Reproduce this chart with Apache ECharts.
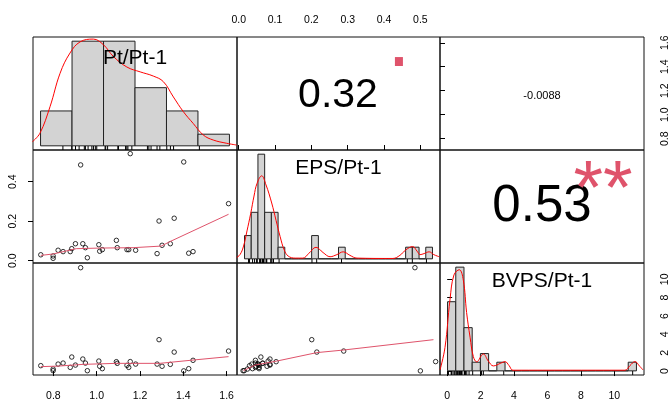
<!DOCTYPE html>
<html>
<head>
<meta charset="utf-8">
<script src="https://cdn.jsdelivr.net/npm/echarts@6/dist/echarts.min.js"></script>
<style>
  html, body { margin: 0; padding: 0; background: #fff; }
  #chart { width: 669px; height: 400px; }
</style>
</head>
<body>
<div id="chart"></div>
<script>
// variable names on the diagonal
const varNames = ['Pt/Pt-1', 'EPS/Pt-1', 'BVPS/Pt-1'];

const pt   = [0.742, 0.799, 0.799, 0.822, 0.845, 0.878, 0.885, 0.902, 0.926, 0.936,
              0.948, 0.957, 1.010, 1.014, 1.026, 1.091, 1.095, 1.140, 1.148, 1.155,
              1.180, 1.279, 1.288, 1.302, 1.340, 1.358, 1.402, 1.425, 1.445, 1.609];
const eps  = [0.030, 0.024, 0.012, 0.053, 0.046, 0.046, 0.061, 0.086, 0.485, 0.086,
              0.066, 0.015, 0.081, 0.048, 0.056, 0.103, 0.066, 0.056, 0.056, 0.542,
              0.053, 0.036, 0.201, 0.078, 0.086, 0.215, 0.500, 0.038, 0.046, 0.289];
const bvps = [0.59, 0.22, 0.04, 0.76, 0.87, 0.40, 1.53, 0.65, 11.27, 1.31,
              0.87, 0.04, 1.09, 0.52, 0.26, 1.02, 0.84, 0.62, 0.40, 1.03,
              0.76, 0.76, 3.42, 0.52, 0.73, 2.07, 0.02, 0.26, 1.17, 2.18];

// correlations (upper panels) and significance stars
const corLabels = ['0.32', '-0.0088', '0.53'];
const corStars  = ['.', '', '**'];

// histograms: first break, bin width, counts
const ptHist   = {start: 0.6, step: 0.2,  counts: [3, 9, 9, 5, 3, 1]};
const epsHist  = {start: 0,   step: 0.02, counts: [2, 4, 9, 4, 4, 1, 0, 0, 0, 0, 2, 0, 0, 0, 1, 0, 0, 0, 0, 0, 0, 0, 0, 0, 1, 1, 0, 1]};
const bvpsHist = {start: 0,   step: 0.5,  counts: [8, 12, 5, 1, 2, 0, 1, 0, 0, 0, 0, 0, 0, 0, 0, 0, 0, 0, 0, 0, 0, 0, 1]};

// kernel density curves (x, density)
const ptDensity = [[0.548, 0.059], [0.596, 0.18], [0.660, 0.56], [0.724, 1.04], [0.787, 1.33], [0.851, 1.49],
  [0.935, 1.53], [0.999, 1.45], [1.063, 1.28], [1.148, 1.13], [1.233, 1.06], [1.316, 1.00], [1.380, 0.92],
  [1.444, 0.70], [1.507, 0.49], [1.570, 0.32], [1.634, 0.155], [1.697, 0.083], [1.783, 0.036], [1.846, 0.011]];
const epsDensity = [[-0.023, 0.2], [-0.0135, 0.6], [-0.0036, 1.7], [0.0074, 4.0], [0.0184, 6.5], [0.0283, 9.0],
  [0.0372, 10.8], [0.0512, 11.9], [0.064, 10.6], [0.081, 8.0], [0.094, 5.5], [0.106, 3.2], [0.118, 1.3],
  [0.130, 0.4], [0.151, 0.1], [0.174, 0.1], [0.192, 0.8], [0.213, 1.65], [0.234, 0.9], [0.255, 0.3],
  [0.275, 0.6], [0.294, 1.0], [0.314, 0.5], [0.335, 0.1], [0.442, 0.05], [0.463, 0.5], [0.481, 1.3],
  [0.501, 1.75], [0.514, 1.1], [0.523, 0.6], [0.535, 0.75], [0.550, 1.0], [0.564, 0.6], [0.580, 0.3]];
const bvpsDensity = [[-0.46, 0.007], [-0.156, 0.18], [0.149, 0.55], [0.39, 0.74], [0.715, 0.78], [0.96, 0.70],
  [1.16, 0.45], [1.37, 0.26], [1.57, 0.11], [1.77, 0.07], [2.18, 0.13], [2.48, 0.076], [2.79, 0.038],
  [3.25, 0.06], [3.5, 0.071], [3.75, 0.04], [3.98, 0.005], [10.8, 0.005], [11.1, 0.04], [11.41, 0.071],
  [11.7, 0.035], [11.9, 0.007]];

// smoothers in the lower panels
const smoothPtEps = [[0.742, 0.027], [0.799, 0.034], [0.906, 0.061], [1.014, 0.064], [1.168, 0.066],
  [1.298, 0.074], [1.337, 0.096], [1.609, 0.235]];
const smoothPtBvps = [[0.742, 0.48], [0.822, 0.54], [0.937, 0.73], [1.091, 0.84], [1.291, 0.84],
  [1.445, 1.20], [1.609, 1.57]];
const smoothEpsBvps = [[0.013, 0.04], [0.045, 0.65], [0.105, 1.09], [0.215, 2.01], [0.288, 2.29], [0.536, 3.42]];

// tick labels
const ptTicks = [0.8, 1.0, 1.2, 1.4, 1.6];
const epsTopTicks = [0, 0.1, 0.2, 0.3, 0.4, 0.5];
const epsLeftTicks = [0, 0.2, 0.4];
const bvpsTicks = [0, 2, 4, 6, 8, 10];

// axis ranges of the data panels
const ptRange = [0.706, 1.648];
const epsRangeX = [-0.0047, 0.554];
const epsRangeY = [-0.0116, 0.5605];
const bvpsRange = [-0.43, 11.78];

const nObs = pt.length;
const FONT = 'Liberation Sans';
const colX = [33, 237, 440, 644];
const rowY = [37, 150, 263, 375];

const chart = echarts.init(document.getElementById('chart'));

const panelBox = (r, c) => ({
  left: colX[c], top: rowY[r],
  width: colX[c + 1] - colX[c], height: rowY[r + 1] - rowY[r]
});

const grids = [];
for (let r = 0; r < 3; r++) {
  for (let c = 0; c < 3; c++) {
    grids.push(Object.assign(panelBox(r, c), {
      show: true, borderColor: '#111', borderWidth: 1,
      backgroundColor: 'transparent', outerBoundsMode: 'none'
    }));
  }
}
grids.push(Object.assign(panelBox(2, 2), {show: false, outerBoundsMode: 'none'}));

const histRange = h => {
  const lo = h.start, hi = h.start + h.counts.length * h.step;
  return [lo - 0.04 * (hi - lo), hi + 0.04 * (hi - lo)];
};
const histYRange = h => {
  const top = Math.max(...h.counts) / (nObs * h.step);
  return [-0.04 * top, top * 1.04];
};

const hidden = (gridIndex, range) => ({
  type: 'value', gridIndex, min: range[0], max: range[1], show: false
});
const shown = (gridIndex, range, position, ticks, digits, margin, rotate) => ({
  type: 'value', gridIndex, min: range[0], max: range[1], position,
  axisLine: {show: false},
  splitLine: {show: false},
  axisTick: {show: true, length: 5, customValues: ticks, lineStyle: {color: '#000', width: 1}},
  axisLabel: {
    show: true, customValues: ticks, formatter: v => v.toFixed(digits),
    fontSize: 10.5, fontFamily: FONT, color: '#000', margin, rotate: rotate || 0
  }
});

const xAxes = [
  hidden(0, histRange(ptHist)),
  shown(1, epsRangeX, 'top', epsTopTicks, 1, 11),
  hidden(2, [0, 1]),
  hidden(3, ptRange),
  hidden(4, histRange(epsHist)),
  hidden(5, [0, 1]),
  shown(6, ptRange, 'bottom', ptTicks, 1, 16),
  hidden(7, epsRangeX),
  hidden(8, histRange(bvpsHist)),
  shown(9, bvpsRange, 'bottom', bvpsTicks, 0, 16)
];
const yAxes = [
  hidden(0, histYRange(ptHist)),
  hidden(1, [0, 1]),
  shown(2, ptRange, 'right', ptTicks, 1, 16, 90),
  shown(3, epsRangeY, 'left', epsLeftTicks, 1, 14.4, 90),
  hidden(4, histYRange(epsHist)),
  hidden(5, [0, 1]),
  hidden(6, bvpsRange),
  hidden(7, bvpsRange),
  hidden(8, histYRange(bvpsHist)),
  shown(9, bvpsRange, 'right', bvpsTicks, 0, 16, 90)
];

const histSeries = (idx, h) => ({
  type: 'custom', xAxisIndex: idx, yAxisIndex: idx, z: 1,
  data: h.counts.map((c, i) => [h.start + i * h.step, h.start + (i + 1) * h.step, c / (nObs * h.step)]),
  renderItem: (params, api) => {
    const a = api.coord([api.value(0), 0]);
    const b = api.coord([api.value(1), api.value(2)]);
    return {
      type: 'rect',
      shape: {x: a[0], y: b[1], width: b[0] - a[0], height: a[1] - b[1]},
      style: {fill: '#D3D3D3', stroke: '#222', lineWidth: 1}
    };
  }
});
const rugSeries = (idx, values, h) => ({
  type: 'custom', xAxisIndex: idx, yAxisIndex: idx, z: 2,
  data: values.map(v => [v, histYRange(h)[0]]),
  renderItem: (params, api) => {
    const p = api.coord([api.value(0), api.value(1)]);
    return {
      type: 'line',
      shape: {x1: p[0], y1: p[1], x2: p[0], y2: p[1] - 4},
      style: {stroke: '#000', lineWidth: 1}
    };
  }
});
const densitySeries = (idx, pts) => ({
  type: 'line', xAxisIndex: idx, yAxisIndex: idx, z: 3,
  data: pts, smooth: 0.4, showSymbol: false, clip: true,
  lineStyle: {color: '#FF0000', width: 1}
});
const pointSeries = (idx, xs, ys) => ({
  type: 'scatter', xAxisIndex: idx, yAxisIndex: idx, z: 2,
  data: xs.map((x, i) => [x, ys[i]]),
  symbol: 'circle', symbolSize: 4.5,
  itemStyle: {color: 'rgba(0,0,0,0)', borderColor: '#000', borderWidth: 1}
});
const smoothSeries = (idx, pts) => ({
  type: 'line', xAxisIndex: idx, yAxisIndex: idx, z: 3,
  data: pts, showSymbol: false, clip: true,
  lineStyle: {color: '#DF536B', width: 1}
});

const series = [
  histSeries(0, ptHist), rugSeries(0, pt, ptHist), densitySeries(0, ptDensity),
  histSeries(4, epsHist), rugSeries(4, eps, epsHist), densitySeries(4, epsDensity),
  histSeries(8, bvpsHist), rugSeries(8, bvps, bvpsHist), densitySeries(8, bvpsDensity),
  pointSeries(3, pt, eps), smoothSeries(3, smoothPtEps),
  pointSeries(6, pt, bvps), smoothSeries(6, smoothPtBvps),
  pointSeries(7, eps, bvps), smoothSeries(7, smoothEpsBvps)
];

// texts: diagonal names and correlations
const txt = (x, y, text, size, color) => ({
  type: 'text', x, y, z: 10,
  style: {text, fontSize: size, fontFamily: FONT, fill: color || '#000', align: 'center', verticalAlign: 'middle'}
});
const graphic = [
  txt(135, 57.8, varNames[0], 21),
  txt(338.5, 168.5, varNames[1], 21),
  txt(542, 281.7, varNames[2], 21),
  txt(338, 95.5, corLabels[0], 41),
  txt(542, 95.7, corLabels[1], 11),
  txt(542, 207, corLabels[2], 51),
  txt(399, 42.5, corStars[0], 84, '#DF536B'),
  txt(603, 192, corStars[2], 76, '#DF536B')
];

chart.setOption({
  animation: false,
  backgroundColor: '#fff',
  grid: grids,
  xAxis: xAxes,
  yAxis: yAxes,
  series,
  graphic
});
</script>
</body>
</html>
